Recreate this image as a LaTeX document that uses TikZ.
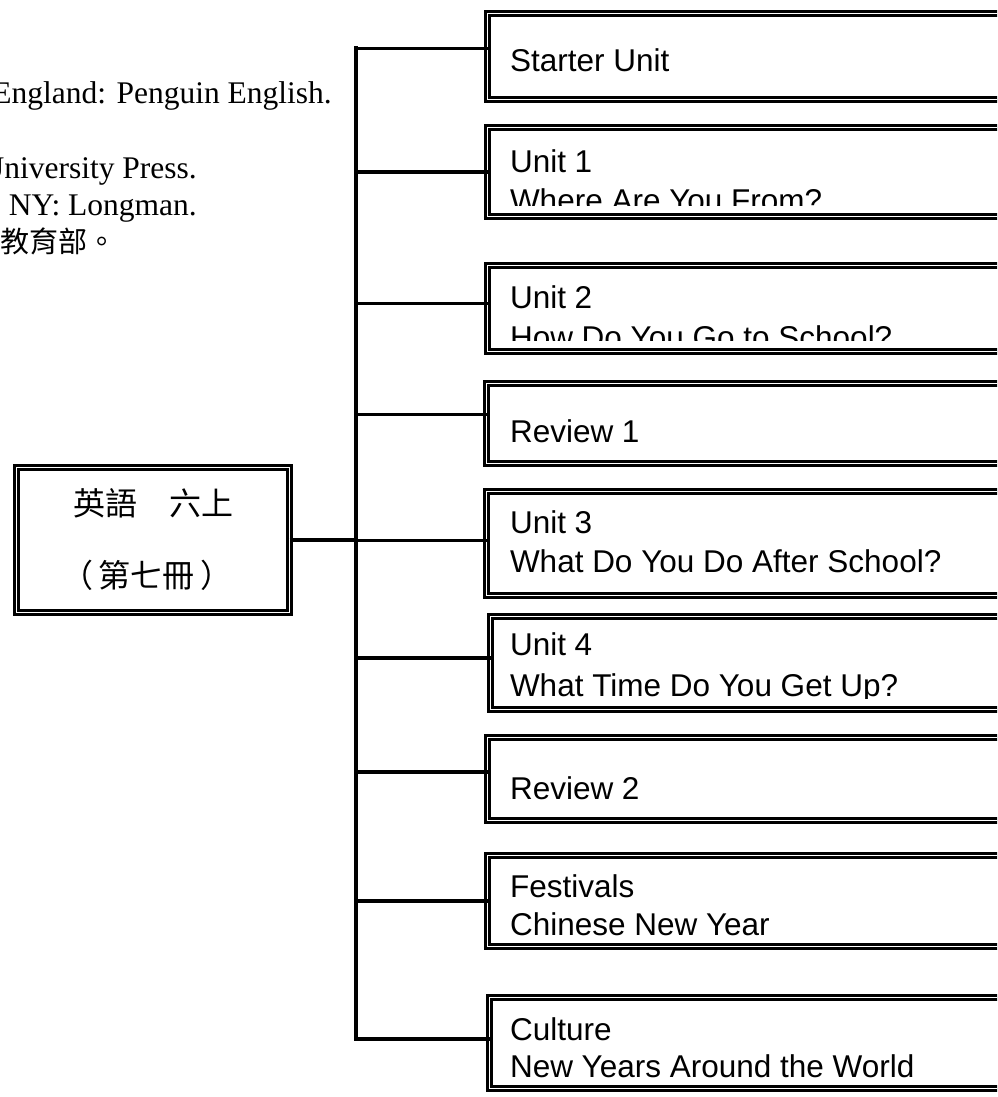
\documentclass[tikz,border=0pt]{standalone}
\usepackage{fontspec}
\setmainfont{Liberation Serif}
\newfontfamily\boxfont{Liberation Sans}
\newfontfamily\cjkfont{Noto Sans CJK TC}
\usetikzlibrary{positioning}
\tikzset{
  unitbox/.style={draw=black,double=white,line width=2.6pt,double distance=1.8pt,
    anchor=north west,outer sep=0pt,inner sep=0pt,minimum width=540},
  rootbox/.style={draw=black,double=white,line width=2.6pt,double distance=1.8pt,
    outer sep=0pt,inner sep=0pt,minimum width=273,minimum height=145,
    align=center,font=\cjkfont\fontsize{32}{72}\selectfont},
  unittext/.style={draw=none,anchor=base west,inner sep=0pt,
    minimum width=0pt,minimum height=0pt,
    font=\boxfont\fontsize{31.5}{38}\selectfont},
  reftext/.style={anchor=base east,inner sep=0pt,
    font=\fontsize{31.5}{36}\selectfont},
  branch/.style={line width=3.6pt},
  trunkline/.style={line width=4pt,line cap=rect}
}
\newcommand{\cutbottom}{%
  \fill[white] ([yshift=11pt]path picture bounding box.south west)
    rectangle (path picture bounding box.south east);}

\begin{document}
\begin{tikzpicture}[x=1pt,y=-1pt]
  \useasboundingbox (0,0) rectangle (997,1097);
  \clip (0,0) rectangle (997,1097);

  % text of the page behind
  \node[reftext] (ref-a) at (332,104) {England: Penguin English.};
  \node[reftext] (ref-b) at (197,178) {University Press.};
  \node[reftext] (ref-c) at (197,215) {NY: Longman.};
  \node[reftext,font=\cjkfont\fontsize{29}{34}\selectfont] (ref-d) at (117,252) {教育部。};

  % root
  \node[rootbox] (root) at (153,540) {英語　六上\\\hspace{-12pt}（\hspace{6pt}第七冊\hspace{6pt}）\hspace{-12pt}};

  % units
  \node[unitbox,minimum height=86,path picture={
      \node[unittext] (s-a) at ([shift={(22.5,58.5)}]path picture bounding box.north west) {Starter Unit};
      \cutbottom}] (s) at (487.5,13.5) {};
  \node[unitbox,minimum height=89,path picture={
      \node[unittext] (u1-a) at ([shift={(22.5,44.5)}]path picture bounding box.north west) {Unit 1};
      \node[unittext] (u1-b) at ([shift={(22.5,83.5)}]path picture bounding box.north west) {Where Are You From?};
      \cutbottom}] (u1) at (487.5,127.5) {};
  \node[unitbox,minimum height=86,path picture={
      \node[unittext] (u2-a) at ([shift={(22.5,42.5)}]path picture bounding box.north west) {Unit 2};
      \node[unittext] (u2-b) at ([shift={(22.5,82.5)}]path picture bounding box.north west) {How Do You Go to School?};
      \cutbottom}] (u2) at (487.5,265.5) {};
  \node[unitbox,minimum height=80,path picture={
      \node[unittext] (r1-a) at ([shift={(23.5,58.5)}]path picture bounding box.north west) {Review 1};
      \cutbottom}] (r1) at (486.5,383.5) {};
  \node[unitbox,minimum height=104,path picture={
      \node[unittext] (u3-a) at ([shift={(23.5,41.5)}]path picture bounding box.north west) {Unit 3};
      \node[unittext] (u3-b) at ([shift={(23.5,80.5)}]path picture bounding box.north west) {What Do You Do After School?};
      \cutbottom}] (u3) at (486.5,491.5) {};
  \node[unitbox,minimum height=93,path picture={
      \node[unittext] (u4-a) at ([shift={(19.5,38.5)}]path picture bounding box.north west) {Unit 4};
      \node[unittext] (u4-b) at ([shift={(19.5,79.5)}]path picture bounding box.north west) {What Time Do You Get Up?};
      \cutbottom}] (u4) at (490.5,616.5) {};
  \node[unitbox,minimum height=83,path picture={
      \node[unittext] (r2-a) at ([shift={(22.5,61.5)}]path picture bounding box.north west) {Review 2};
      \cutbottom}] (r2) at (487.5,737.5) {};
  \node[unitbox,minimum height=91,path picture={
      \node[unittext] (fe-a) at ([shift={(22.5,41.5)}]path picture bounding box.north west) {Festivals};
      \node[unittext] (fe-b) at ([shift={(22.5,79.5)}]path picture bounding box.north west) {Chinese New Year};
      \cutbottom}] (fe) at (487.5,855.5) {};
  \node[unitbox,minimum height=91,path picture={
      \node[unittext] (cu-a) at ([shift={(20.5,42.5)}]path picture bounding box.north west) {Culture};
      \node[unittext] (cu-b) at ([shift={(20.5,79.5)}]path picture bounding box.north west) {New Years Around the World};
      \cutbottom}] (cu) at (489.5,997.5) {};

  % tree lines
  \coordinate (trunk) at (356,540);
  \draw[trunkline] ([yshift=8pt]trunk |- s.west) -- ([yshift=4pt]trunk |- cu.west);
  \draw[branch] (root.east) -- (trunk |- root.east);
  \draw[branch] ([yshift=8pt]trunk |- s.west) -- ([yshift=8pt]s.west);
  \draw[branch] (trunk |- u1.west) -- (u1.west);
  \draw[branch] ([yshift=5pt]trunk |- u2.west) -- ([yshift=5pt]u2.west);
  \draw[branch] ([yshift=9pt]trunk |- r1.west) -- ([yshift=9pt]r1.west);
  \draw[branch] ([yshift=3pt]trunk |- u3.west) -- ([yshift=3pt]u3.west);
  \draw[branch] ([yshift=5pt]trunk |- u4.west) -- ([yshift=5pt]u4.west);
  \draw[branch] ([yshift=7pt]trunk |- r2.west) -- ([yshift=7pt]r2.west);
  \draw[branch] (trunk |- fe.west) -- (fe.west);
  \draw[branch] ([yshift=4pt]trunk |- cu.west) -- ([yshift=4pt]cu.west);
\end{tikzpicture}
\end{document}
